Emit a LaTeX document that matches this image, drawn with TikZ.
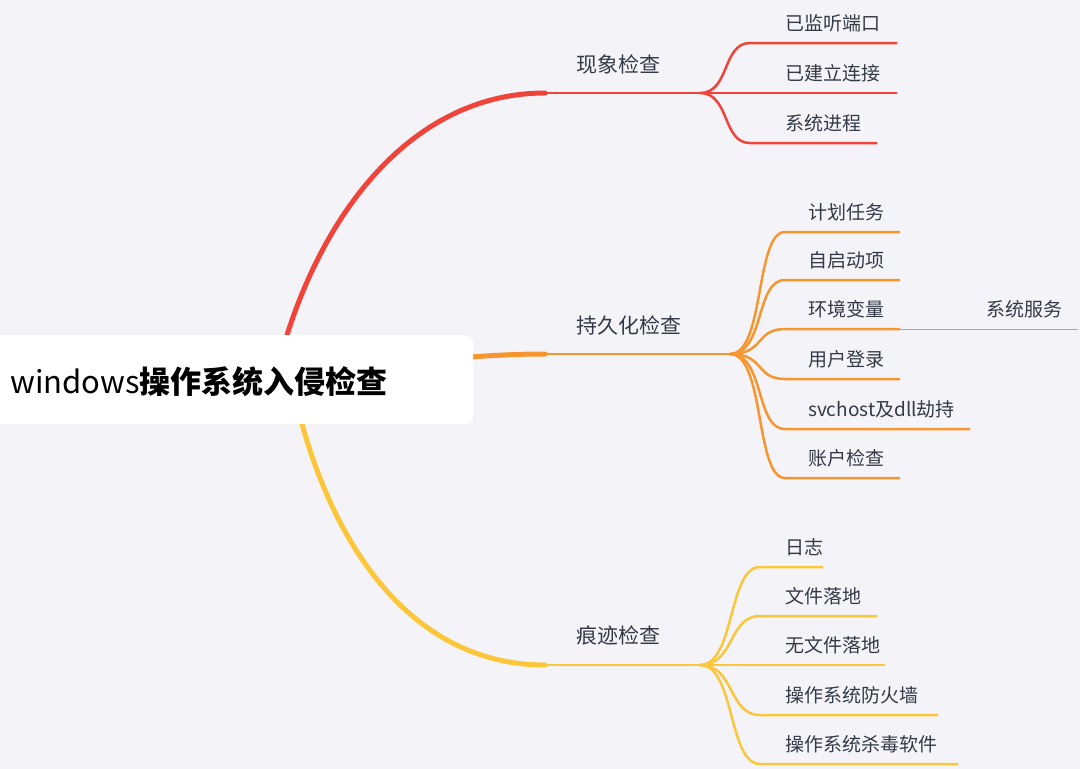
\documentclass[tikz,border=0pt]{standalone}
\usepackage{fontspec}
\setmainfont{Noto Sans CJK SC}
\usepackage{tikz}
\usetikzlibrary{positioning}
\definecolor{bgcol}{HTML}{F4F4F8}
\definecolor{txtcol}{HTML}{333A45}
\definecolor{mapred}{HTML}{F0443A}
\definecolor{maporange}{HTML}{F7962E}
\definecolor{mapyellow}{HTML}{FCC63A}
\tikzset{
  leaf/.style={font=\fontsize{19}{20}\selectfont, text=txtcol, anchor=base west, inner sep=0pt},
  topic/.style={font=\fontsize{21}{22}\selectfont, text=txtcol, anchor=base west, inner sep=0pt},
  trunk/.style={line width=5pt, line cap=round},
  twig/.style={line width=2.5pt},
}
\begin{document}
\begin{tikzpicture}[x=1pt, y=-1pt]
        \fill[bgcol] (0,0) rectangle (1080,769);
        \useasboundingbox (0,0) rectangle (1080,769);
        % main branches
        \draw[trunk, mapred] (287,335) .. controls (330,200) and (420,93) .. (545,93);
        \draw[trunk, mapyellow] (302,424) .. controls (340,560) and (420,665) .. (545,665);
        \draw[trunk, maporange] (470,357) .. controls (500,355) and (520,354) .. (545,354);
        \draw[twig, mapred] (545,93) -- (700,93) coordinate (hubA);
        \draw[twig, maporange] (545,354) -- (730,354) coordinate (hubB);
        \draw[twig, mapyellow] (545,665) -- (700,665) coordinate (hubC);
        % root
        \node[fill=white, rounded corners=8pt, minimum width=490pt, minimum height=89pt,
          anchor=north west, inner sep=0pt] (root) at (-17,335) {};
        \node[anchor=base west, inner sep=0pt, font=\fontsize{31}{32}\selectfont] (title)
          at (10,393) {windows\textbf{操作系统入侵检查}};
        % topics
        \node[topic] (xianxiang) at (576,72) {现象检查};
        \node[topic] (chijiu) at (576,333) {持久化检查};
        \node[topic] (henji) at (576,643) {痕迹检查};
        % red leaves
        \foreach \y/\e/\t [count=\i] in {43/897/已监听端口, 93/897/已建立连接, 143/877/系统进程}{
          \node[leaf] (a\i) at (785,\y-13) {\t};
          \coordinate (a\i s) at (750,\y);
          \draw[twig, mapred] (hubA) .. controls (730,93) and (722,\y) .. (a\i s) -- (\e,\y);
        }
        % orange leaves
        \foreach \y/\e/\t [count=\i] in {232/900/计划任务, 280/900/自启动项, 329/900/环境变量,
            379/900/用户登录, 429/970/svchost及dll劫持, 478/900/账户检查}{
          \node[leaf] (b\i) at (808,\y-13) {\t};
          \coordinate (b\i s) at (785,\y);
          \draw[twig, maporange] (hubB) .. controls (765,354) and (755,\y) .. (b\i s) -- (\e,\y);
        }
        \node[leaf] (fuwu) at (986,316) {系统服务};
        \draw[maporange, line width=1pt] (900,329) -- (1078,329);
        % yellow leaves
        \foreach \y/\e/\t [count=\i] in {567/823/日志, 616/877/文件落地, 665/885/无文件落地,
            715/938/操作系统防火墙, 764/958/操作系统杀毒软件}{
          \node[leaf] (c\i) at (785,\y-13) {\t};
          \coordinate (c\i s) at (760,\y);
          \draw[twig, mapyellow] (hubC) .. controls (735,665) and (728,\y) .. (c\i s) -- (\e,\y);
        }
      \end{tikzpicture}
\end{document}
